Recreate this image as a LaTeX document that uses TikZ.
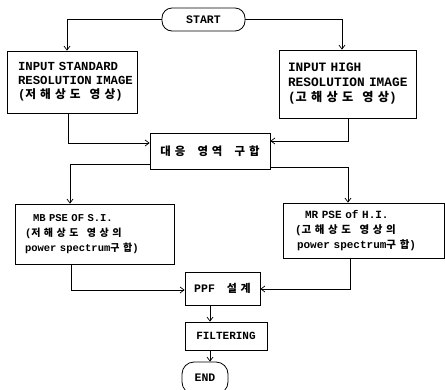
\documentclass[tikz,border=0pt]{standalone}
\usepackage{fontspec}
\setmainfont{Liberation Mono}
\setmonofont{Liberation Mono}
\newfontfamily\kr[Scale=0.95,LetterSpace=35]{Noto Sans CJK KR}
\newcommand{\kgap}{\hspace{5pt}}
\usetikzlibrary{arrows.meta}
\hyphenpenalty=10000
\exhyphenpenalty=10000
\begin{document}
\begin{tikzpicture}[x=1pt,y=-1pt,
  box/.style={draw, line width=0.8pt, inner sep=0pt},
  txtbox/.style={box, align=left},
  flow/.style={draw, line width=0.7pt, -{Straight Barb[length=4pt,width=6pt]}},
]
\useasboundingbox (0,0) rectangle (445,389);
\fill[white] (0,0) rectangle (445,389);

\node[box, rounded corners=10pt, minimum width=83pt, minimum height=23pt,
  font=\fontsize{11.5}{13}\selectfont\bfseries] (start) at (203.5,19.5) {START};

\node[txtbox, minimum width=130pt, minimum height=62pt, text width=108pt, inner xsep=11pt,
  font=\fontsize{12.3}{14}\selectfont\bfseries] (in1) at (72,82)
  {\mbox{INPUT STANDARD}\\\mbox{RESOLUTION IMAGE}\\\mbox{({\kr 저해상도} \kgap{\kr 영상})}};

\node[txtbox, minimum width=137pt, minimum height=68pt, text width=119pt, inner xsep=9pt,
  font=\fontsize{12.8}{15}\selectfont\bfseries] (in2) at (347.5,84)
  {\mbox{INPUT HIGH}\\\mbox{RESOLUTION IMAGE}\\\mbox{({\kr 고해상도} \kgap{\kr 영상})}};

\node[box, minimum width=120pt, minimum height=36pt,
  font=\fontsize{12}{14}\selectfont\bfseries] (mid) at (210,151)
  {{\kr 대응} \kgap{\kr 영역} \kgap{\kr 구합}};

\node[txtbox, minimum width=159pt, minimum height=60pt, text width=139pt, inner xsep=10pt,
  font=\fontsize{10.5}{15}\selectfont\bfseries] (ps1) at (94.5,234)
  {\hspace*{8pt}\mbox{MB PSE OF S.I.}\\\mbox{({\kr 저해상도} \kgap{\kr 영상의}}\\\mbox{power spectrum{\kr 구합})}};

\node[txtbox, minimum width=161pt, minimum height=55pt, text width=137pt, inner xsep=12pt,
  font=\fontsize{11}{15}\selectfont\bfseries] (ps2) at (363.5,230.5)
  {\hspace*{10pt}\mbox{MR PSE of H.I.}\\\mbox{({\kr 고해상도} \kgap{\kr 영상의}}\\\hspace*{2pt}\mbox{power spectrum{\kr 구합})}};

\node[box, minimum width=75pt, minimum height=33pt,
  font=\fontsize{11.5}{13}\selectfont\bfseries] (ppf) at (222.5,288.5) {PPF \kgap{\kr 설계}};

\node[box, minimum width=82pt, minimum height=28pt,
  font=\fontsize{11}{13}\selectfont\bfseries] (filt) at (226,336) {FILTERING};

\node[box, rounded corners=12pt, minimum width=46pt, minimum height=32pt,
  font=\fontsize{11.5}{13}\selectfont\bfseries] (end) at (205,378) {END};

\draw[flow] (start.west) -| ([xshift=-5pt]in1.north);
\draw[flow] (start.east) -| ([xshift=-5.5pt]in2.north);
\draw[flow] ([xshift=-4pt]in1.south) |- ([yshift=8pt]mid.west);
\draw[flow] ([xshift=0.5pt]in2.south) |- ([yshift=10pt]mid.east);
\draw[flow] ([yshift=-13pt]mid.west) -| ([xshift=-24.5pt]ps1.north);
\draw[flow] ([yshift=-16pt]mid.east) -| ([xshift=-15.5pt]ps2.north);
\draw[flow] ([xshift=-23.5pt]ps1.south) |- ([yshift=-1.5pt]ppf.west);
\draw[flow] ([xshift=-13.5pt]ps2.south) |- ([yshift=-0.5pt]ppf.east);
\draw[flow] ([xshift=-12.5pt]ppf.south) -- ([xshift=-12.5pt]ppf.south |- filt.north);
\draw[flow] ([xshift=-16pt]filt.south) -- ([xshift=-16pt]filt.south |- end.north);
\end{tikzpicture}
\end{document}
